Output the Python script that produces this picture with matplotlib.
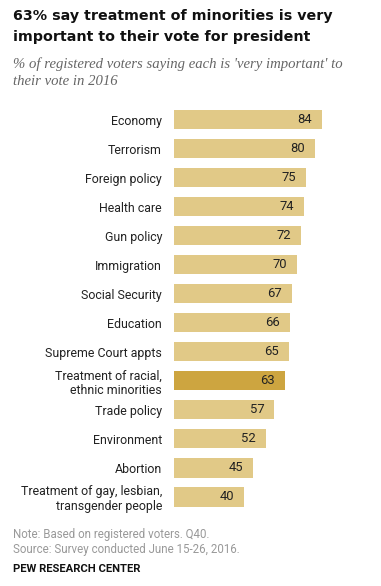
import matplotlib.pyplot as plt

categories = ['Economy', 'Terrorism', 'Foreign policy', 'Health care', 'Gun policy',
              'Immigration', 'Social Security', 'Education', 'Supreme Court appts',
              'Treatment of racial,\nethnic minorities', 'Trade policy', 'Environment',
              'Abortion', 'Treatment of gay, lesbian,\ntransgender people']
values = [84, 80, 75, 74, 72, 70, 67, 66, 65, 63, 57, 52, 45, 40]
highlight = 'Treatment of racial,\nethnic minorities'

W, H = 381, 586
fig = plt.figure(figsize=(W / 100, H / 100), dpi=100)
fig.patch.set_facecolor('white')

# axes placed in pixel terms
left, right_px = 174, 174 + 176.2
top, bottom = 105, 511.5
ax = fig.add_axes([left / W, 1 - bottom / H, (right_px - left) / W, (bottom - top) / H])

colors = ['#CDA540' if c == highlight else '#E1C987' for c in categories]
ypos = list(range(len(categories)))
ax.barh(ypos, values, height=0.66, color=colors)
ax.set_xlim(0, 100)
ax.set_ylim(len(categories) - 0.5, -0.5)

for y, v in zip(ypos, values):
    ax.annotate(str(v), (v, y), xytext=(-7.2, 0), textcoords='offset points',
                ha='right', va='center', fontsize=9.4, family='Roboto', color='#222222')

ax.set_yticks(ypos)
ax.set_yticklabels(categories, fontsize=8.9, family='Roboto', color='#222222')
ax.tick_params(axis='y', length=0, pad=8.6)
ax.set_xticks([])
for s in ax.spines.values():
    s.set_visible(False)

fig.text(13 / W, 1 - 9 / H, '63% say treatment of minorities is very\nimportant to their vote for president',
         fontsize=10.3, fontweight='bold', family='DejaVu Sans', va='top', ha='left',
         linespacing=1.62, color='#111111')
fig.text(13 / W, 1 - 57 / H, "% of registered voters saying each is 'very important' to\ntheir vote in 2016",
         fontsize=10.6, style='italic', family='Liberation Serif', va='top', ha='left',
         linespacing=1.45, color='#666666')

fig.text(13 / W, 1 - 528 / H, 'Note: Based on registered voters. Q40.\nSource: Survey conducted June 15-26, 2016.',
         fontsize=8.3, family='Roboto', va='top', ha='left', linespacing=1.25, color='#999999')
fig.text(13 / W, 1 - 564 / H, 'PEW RESEARCH CENTER', fontsize=8.1, fontweight='bold',
         family='Roboto', va='top', ha='left', color='#111111')

plt.savefig('out.png', dpi=100)
